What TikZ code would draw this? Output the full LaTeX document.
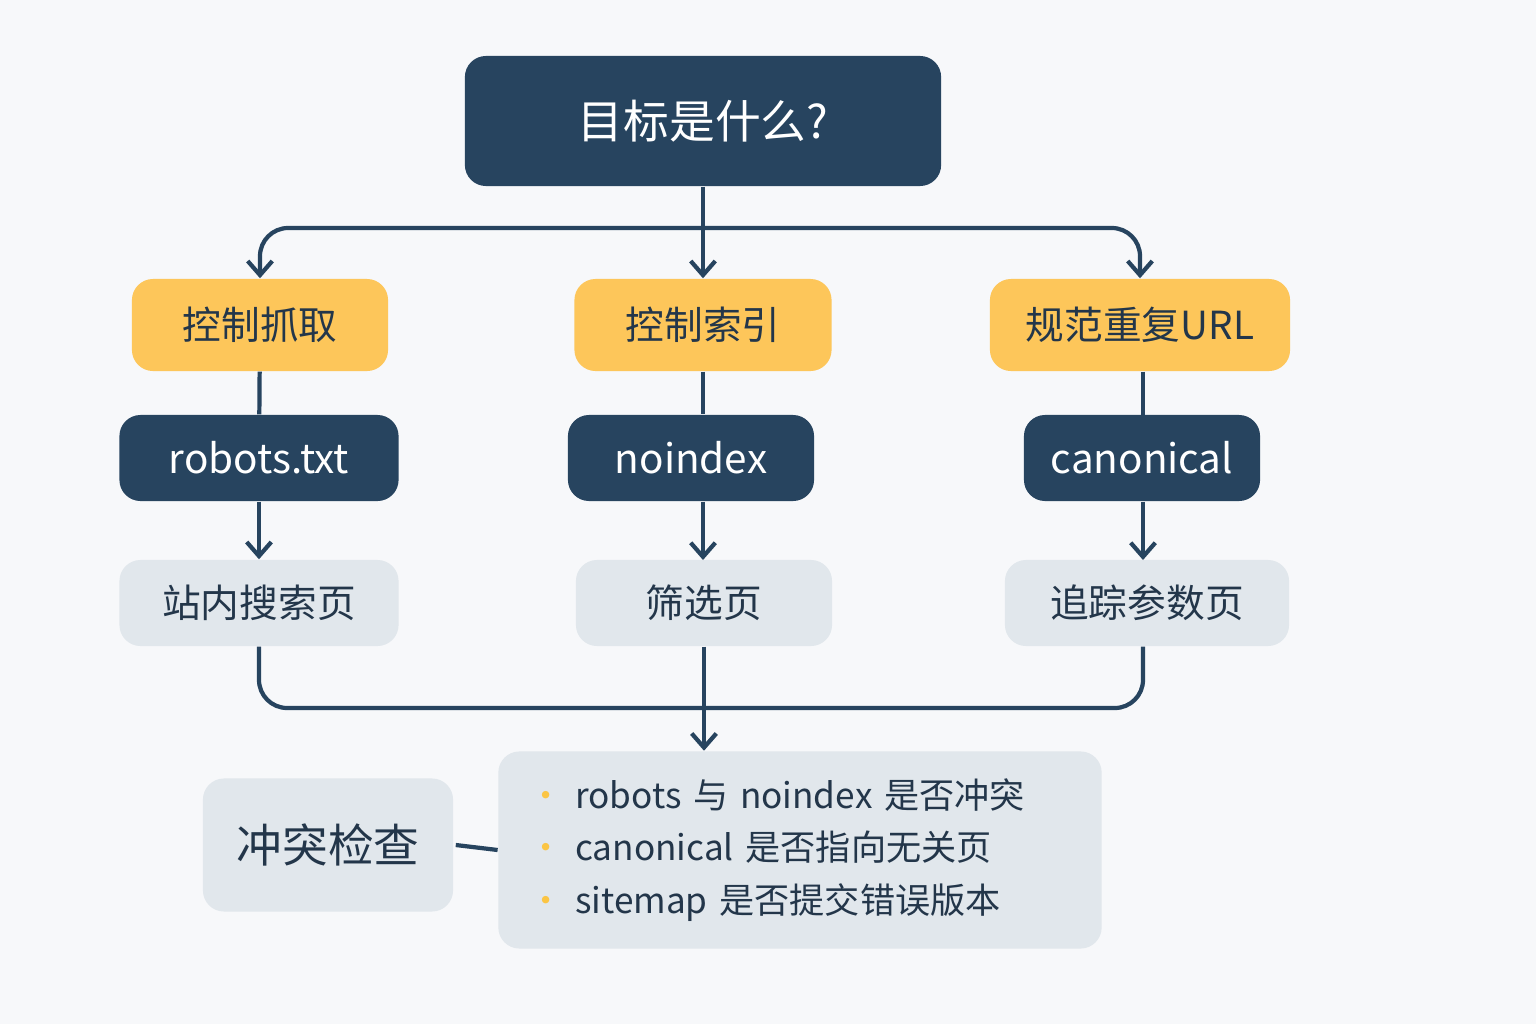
\documentclass[tikz,border=0pt]{standalone}
\usepackage{fontspec}
\setmainfont{Noto Sans CJK SC}
\usetikzlibrary{arrows.meta}
\definecolor{navy}{HTML}{27445F}
\definecolor{gold}{HTML}{FDC65A}
\definecolor{pale}{HTML}{E1E7EC}
\definecolor{bg}{HTML}{F7F8FA}
\definecolor{ink}{HTML}{23364A}
\definecolor{dot}{HTML}{FBC544}
\tikzset{
  box/.style={rounded corners=6pt, inner sep=0pt, align=center},
  goal/.style={box, fill=navy, text=white, font=\fontsize{13}{15}\selectfont},
  aim/.style={box, fill=gold, text=ink, font=\fontsize{11}{13}\selectfont},
  tool/.style={box, fill=navy, text=white, font=\fontsize{11.5}{13}\selectfont},
  page/.style={box, fill=pale, text=ink, font=\fontsize{11}{13}\selectfont},
  link/.style={draw=navy, line width=1.2pt, rounded corners=8pt},
  tip/.style={-{Straight Barb[length=4pt,width=7pt]}}
}
\begin{document}
\begin{tikzpicture}[x=0.01cm, y=-0.01cm]
    \fill[bg] (0,0) rectangle (1536,1024);
    \useasboundingbox (0,0) rectangle (1536,1024);
    % top
    \node[goal, minimum width=4.76cm, minimum height=1.30cm] (goal) at (703,121) {目标是什么?};
    % aims
    \node[aim, minimum width=2.56cm, minimum height=0.92cm] (crawl) at (260,325) {控制抓取};
    \node[aim, minimum width=2.57cm, minimum height=0.92cm] (index) at (703,325) {控制索引};
    \node[aim, minimum width=3.00cm, minimum height=0.92cm] (dup) at (1140,325) {规范重复URL};
    % tools
    \node[tool, minimum width=2.79cm, minimum height=0.86cm] (robots) at (259,458) {robots.txt};
    \node[tool, minimum width=2.46cm, minimum height=0.86cm] (noindex) at (691,458) {noindex};
    \node[tool, minimum width=2.36cm, minimum height=0.86cm] (canon) at (1142,458) {canonical};
    % pages
    \node[page, minimum width=2.79cm, minimum height=0.86cm] (search) at (259,603) {站内搜索页};
    \node[page, minimum width=2.56cm, minimum height=0.86cm] (filter) at (704,603) {筛选页};
    \node[page, minimum width=2.84cm, minimum height=0.86cm] (track) at (1147,603) {追踪参数页};
    % check
    \node[page, minimum width=2.50cm, minimum height=1.33cm, font=\fontsize{13}{15}\selectfont] (check) at (328,845) {冲突检查};
    \node[page, minimum width=6.03cm, minimum height=1.97cm, align=left, text width=5.43cm,
          font=\fontsize{10}{15}\selectfont] (items) at (800,850)
        {{\color{dot}\textbullet}\ robots 与 noindex 是否冲突\\
         {\color{dot}\textbullet}\ canonical 是否指向无关页\\
         {\color{dot}\textbullet}\ sitemap 是否提交错误版本};
    % connectors
    \coordinate (split) at (703,228);
    \draw[link] (goal.south) -- (split);
    \draw[link, tip] (split) -| (crawl.north);
    \draw[link, tip] (split) -- (index.north);
    \draw[link, tip] (split) -| (dup.north);
    \draw[link] (crawl) -- (robots);
    \draw[link] (index.south) -- (index.south |- noindex.north);
    \draw[link] (dup.south -| 1143,0) -- (1143,415);
    \draw[link, tip] (robots.south -| search.north) -- (search.north);
    \draw[link, tip] (noindex.south -| 703,0) -- (703,560);
    \draw[link, tip] (canon.south -| 1143,0) -- (1143,560);
    \coordinate (merge) at (703,708);
    \draw[link] (search.south) |- (merge);
    \draw[link] (track.south -| 1143,0) |- (merge);
    \draw[link, tip] (filter.south) -- (items.north -| filter.south);
    \draw[link] (check.east) ++(2,0) -- (items.west);
\end{tikzpicture}
\end{document}
